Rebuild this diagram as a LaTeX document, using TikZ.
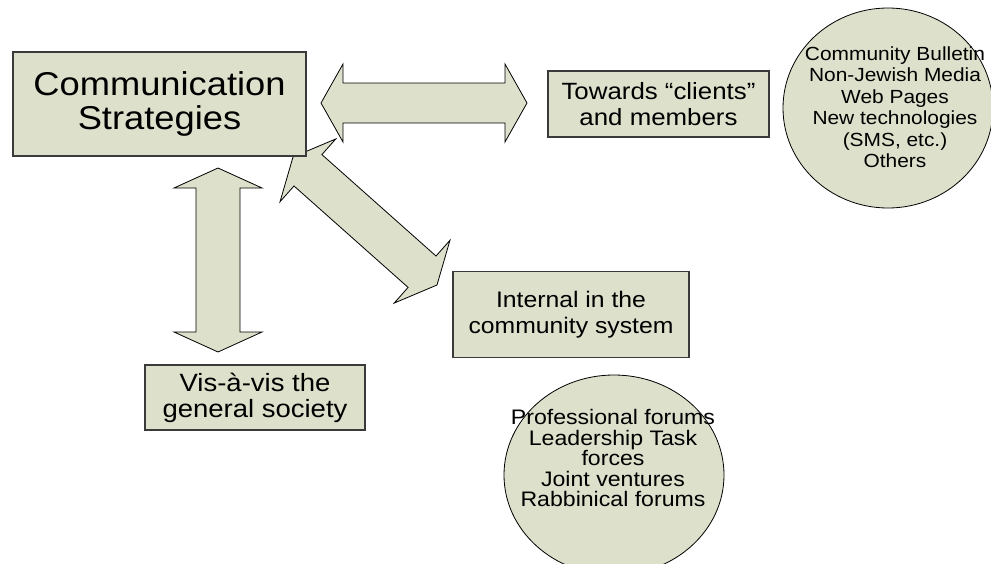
\documentclass[tikz,border=0pt]{standalone}
\usepackage{fontspec}
\setmainfont{Liberation Sans}
\newfontfamily\widesans[FakeStretch=1.1]{Liberation Sans}
\usetikzlibrary{calc,shapes.geometric}

\definecolor{panel}{HTML}{DDE0CB}
\definecolor{rim}{HTML}{3A3A3A}

\tikzset{
  box/.style={draw=rim, line width=1.2pt, fill=panel, align=center,
    inner sep=0pt},
  bubble/.style={ellipse, draw=black, line width=0.8pt, fill=panel,
    align=center, inner sep=0pt},
  blockarrow/.style={draw=black, line width=0.8pt, fill=panel, line join=miter},
}

% Two-headed block arrow between the tips #1 and #2;
% #3 head length, #4 half width of the head, #5 half width of the shaft.
\newcommand\twowayarrow[5]{%
  \coordinate (ba1) at ($(#1)!#3!(#2)$);
  \coordinate (ba2) at ($(#2)!#3!(#1)$);
  \draw[blockarrow] (#1)
    -- ($(ba1)!#4!90:(#2)$) -- ($(ba1)!#5!90:(#2)$)
    -- ($(ba2)!#5!-90:(#1)$) -- ($(ba2)!#4!-90:(#1)$)
    -- (#2)
    -- ($(ba2)!#4!90:(#1)$) -- ($(ba2)!#5!90:(#1)$)
    -- ($(ba1)!#5!-90:(#2)$) -- ($(ba1)!#4!-90:(#2)$)
    -- cycle;
}

\begin{document}
\begin{tikzpicture}[x=1pt, y=-1pt]
  \useasboundingbox (0,0) rectangle (991,563);
  \clip (0,0) rectangle (991,563);

  % arrow tips
  \coordinate (hl) at (321,103);
  \coordinate (hr) at (527,103);
  \coordinate (vt) at (218,168);
  \coordinate (vb) at (218,352);
  \coordinate (dt) at (293,157);
  \coordinate (db) at (437,285);

  \twowayarrow{hl}{hr}{22pt}{39pt}{20pt}
  \twowayarrow{vt}{vb}{20pt}{44pt}{22pt}
  \twowayarrow{dt}{db}{20pt}{42pt}{21pt}

  % boxes
  \node[box, minimum width=293pt, minimum height=104pt,
        font=\widesans\fontsize{33}{34}\selectfont] (main) at (159.5,104)
    {Communication\\Strategies};
  \node[box, minimum width=221pt, minimum height=66pt,
        font=\widesans\fontsize{23.5}{26}\selectfont] (clients) at (658.5,104)
    {Towards “clients”\\and members};
  \node[box, minimum width=236pt, minimum height=86pt,
        font=\widesans\fontsize{22.5}{25.5}\selectfont] (internal) at (571,314.5)
    {Internal in the\\community system};
  \node[box, minimum width=220pt, minimum height=65pt,
        font=\widesans\fontsize{25}{26}\selectfont] (society) at (255,397.5)
    {Vis-à-vis the\\general society};

  % channel bubbles
  \node[bubble, minimum width=210pt, minimum height=200pt] (media) at (888,108) {};
  \node[font=\widesans\fontsize{19}{21.5}\selectfont, align=center, inner sep=0pt]
    (mediatext) at (895,107)
    {Community Bulletin\\Non-Jewish Media\\Web Pages\\New technologies\\(SMS, etc.)\\Others};
  \node[bubble, minimum width=220pt, minimum height=200pt] (forums) at (614,475) {};
  \node[font=\widesans\fontsize{21}{20.5}\selectfont, align=center, inner sep=0pt]
    (forumtext) at (613,458)
    {Professional forums\\Leadership Task\\forces\\Joint ventures\\Rabbinical forums};
\end{tikzpicture}
\end{document}
